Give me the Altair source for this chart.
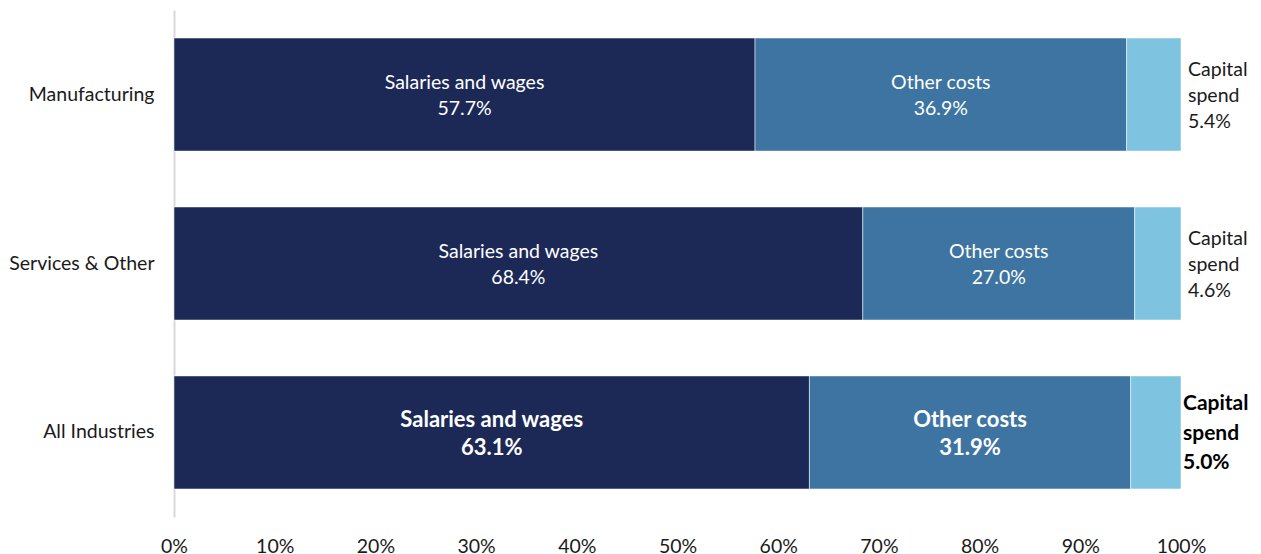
import altair as alt
import pandas as pd

categories = ["Manufacturing", "Services & Other", "All Industries"]
segments = ["Salaries and wages", "Other costs", "Capital spend"]
salaries = [57.7, 68.4, 63.1]
other = [36.9, 27.0, 31.9]
capital = [5.4, 4.6, 5.0]
bold_rows = [False, False, True]
colors = ["#1c2957", "#3e74a1", "#7ec4e0"]
x_ticks = [0, 10, 20, 30, 40, 50, 60, 70, 80, 90, 100]

rows = []
for i, cat in enumerate(categories):
    start = 0.0
    for seg, vals in zip(segments, [salaries, other, capital]):
        v = vals[i]
        end = start + v
        if seg == "Capital spend":
            label = "Capital\nspend\n" + f"{v:.1f}%"
            lx = 100.0
        else:
            label = seg + "\n" + f"{v:.1f}%"
            lx = (start + end) / 2
        rows.append(dict(category=cat, segment=seg, value=v, start=start, end=end,
                         label=label, lx=lx, bold=bold_rows[i],
                         outside=(seg == "Capital spend")))
        start = end
df = pd.DataFrame(rows)

FONT = "Lato"
FS = 19.5
FSB = 22

y_enc = alt.Y("category:N", sort=categories, title=None,
              scale=alt.Scale(paddingInner=0.331, paddingOuter=0.166),
              axis=alt.Axis(labelFontSize=FS, labelColor="#1a1a1a", labelFont=FONT,
                            labelPadding=20, ticks=False, domainColor="#d9d9d9",
                            domainWidth=2))

bars = alt.Chart(df).mark_bar(stroke="white", strokeWidth=0.5).encode(
    x=alt.X("start:Q", scale=alt.Scale(domain=[0, 100], nice=False), title=None,
            axis=alt.Axis(values=x_ticks, labelExpr="datum.value + '%'", grid=False,
                          domain=False, ticks=False, labelFontSize=FS, labelFont=FONT,
                          labelColor="#1a1a1a", labelPadding=20, labelFlush=False)),
    x2="end:Q",
    y=y_enc,
    color=alt.Color("segment:N", scale=alt.Scale(domain=segments, range=colors), legend=None),
)

base_text = alt.Chart(df).encode(
    x="lx:Q",
    y=alt.Y("category:N", sort=categories),
    text="label:N",
)

inside_normal = base_text.mark_text(lineBreak="\n", color="white", fontSize=FS, font=FONT,
                                    lineHeight=26, align="center", baseline="middle",
                                    dy=-12).transform_filter("!datum.outside && !datum.bold")
inside_bold = base_text.mark_text(lineBreak="\n", color="white", fontSize=FSB, font=FONT,
                                  fontWeight="bold", lineHeight=28, align="center",
                                  baseline="middle", dy=-12).transform_filter(
    "!datum.outside && datum.bold")
outside_normal = base_text.mark_text(lineBreak="\n", color="#1a1a1a", fontSize=FS, font=FONT,
                                     lineHeight=26, align="left", baseline="middle",
                                     dx=7, dy=-25).transform_filter("datum.outside && !datum.bold")
outside_bold = base_text.mark_text(lineBreak="\n", color="#000000", fontSize=21, font=FONT,
                                   fontWeight="bold", lineHeight=29.5, align="left",
                                   baseline="middle", dx=2, dy=-28).transform_filter(
    "datum.outside && datum.bold")

chart = alt.layer(bars, inside_normal, inside_bold, outside_normal, outside_bold).properties(
    width=1007, height=507,
    autosize=alt.AutoSizeParams(type="none"),
    padding={"left": 166, "top": 2, "right": 72, "bottom": 38},
).configure(background="white").configure_view(strokeWidth=0, stroke=None)

chart.save("out.html", embed_options={"renderer": "svg", "actions": False})
